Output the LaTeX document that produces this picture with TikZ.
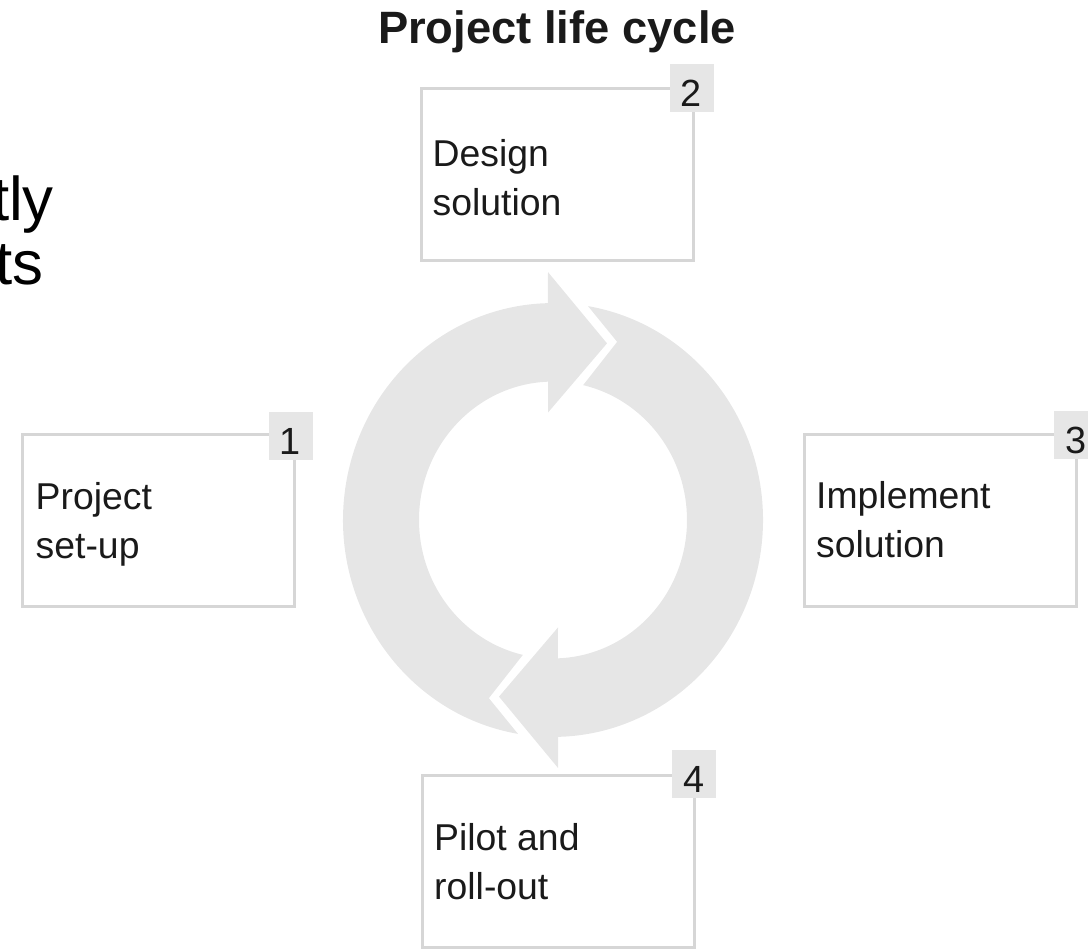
\documentclass[tikz,border=0pt]{standalone}
\usepackage{fontspec}
\setmainfont{Liberation Sans}
\usetikzlibrary{positioning,calc}

\definecolor{ringgray}{HTML}{E6E6E6}
\definecolor{framegray}{HTML}{D6D6D6}
\definecolor{inkblack}{HTML}{1A1A1A}

\begin{document}
\begin{tikzpicture}[x=1bp,y=-1bp,
stage/.style={draw=framegray,line width=3bp,minimum width=272bp,
  minimum height=172bp,inner sep=0pt,outer sep=0pt},
tag/.style={fill=ringgray,minimum width=44bp,minimum height=48bp,
  inner sep=0pt,text height=37bp,text depth=0pt,text=inkblack,
  font=\fontsize{38}{38}\selectfont},
stagetext/.style={anchor=base west,align=left,inner sep=0pt,
  text=inkblack,font=\fontsize{37.5}{49}\selectfont}]
\clip (0,0) rectangle (1088,949);

\node[anchor=base,inner sep=0pt,text=inkblack,
  font=\bfseries\fontsize{45.5}{45.5}\selectfont] (title) at (557,43) {Project life cycle};
\node[anchor=base east,inner sep=0pt,font=\fontsize{62}{62}\selectfont] (frag1) at (54,220) {tly};
\node[anchor=base east,inner sep=0pt,font=\fontsize{62}{62}\selectfont] (frag2) at (44,284) {ts};

\begin{scope}[shift={(553,520)},yscale=-1.033]
\foreach \r in {0,180}
  \fill[ringgray,rotate=\r] (-5,240) -- (54,171) -- (-5,104) -- (92.1:134)
    arc[start angle=92.1,end angle=257,radius=134] -- (249.6:184) -- (260.4:210)
    arc[start angle=260.4,end angle=91.4,radius=210] -- cycle;
\end{scope}

\node[stage] (setup) at (158.5,520.5) {};
\node[stage] (design) at (557.5,174) {};
\node[stage] (implement) at (940,520) {};
\node[stage] (pilot) at (558,861.5) {};

\node[tag] (tag1) at ([xshift=-4bp,yshift=-1bp]setup.north east) {1};
\node[tag] (tag2) at ([xshift=-2bp]design.north east) {2};
\node[tag] (tag3) at ([yshift=-1bp]implement.north east) {3};
\node[tag] (tag4) at ([yshift=2bp]pilot.north east) {4};

\node[stagetext] (setuptext) at ([xshift=13bp,yshift=-124bp]setup.north west) {Project\\set-up};
\node[stagetext] (designtext) at ([xshift=11bp,yshift=-127bp]design.north west) {Design\\solution};
\node[stagetext] (implementtext) at ([xshift=12bp,yshift=-123bp]implement.north west) {Implement\\solution};
\node[stagetext] (pilottext) at ([xshift=12bp,yshift=-124bp]pilot.north west) {Pilot and\\roll-out};
\end{tikzpicture}
\end{document}
